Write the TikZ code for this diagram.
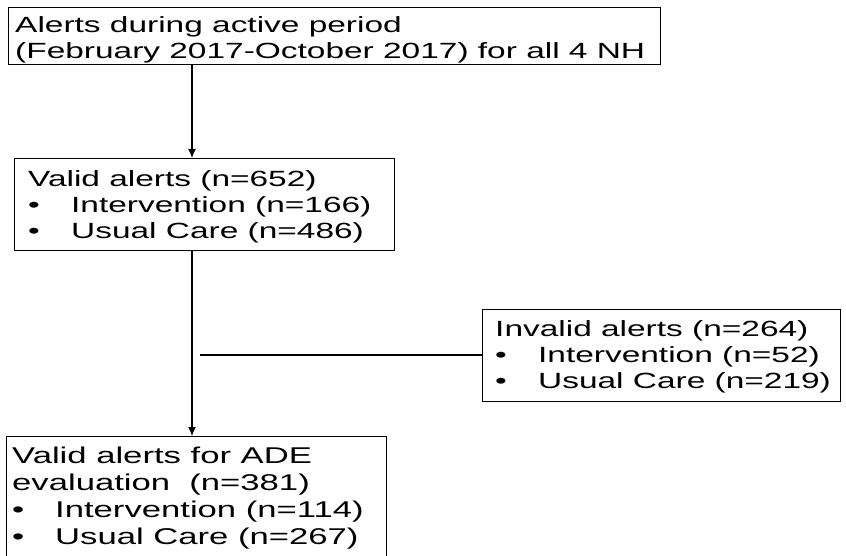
\documentclass[tikz,border=0pt]{standalone}
\usepackage{fontspec}
\setmainfont{Liberation Sans}[FakeStretch=1.52]
\usetikzlibrary{arrows.meta}
\begin{document}
\begin{tikzpicture}[x=1pt,y=-1pt,
  box/.style={draw, line width=1.2pt, anchor=north west, inner sep=0pt},
  txt/.style={anchor=north west, inner sep=0pt, align=left, font=\fontsize{22}{26}\selectfont},
  bigtxt/.style={txt, font=\fontsize{22.8}{27}\selectfont},
  conn/.style={line width=1.2pt},
  arr/.style={conn, -{Latex[length=9pt,width=8pt]}}
]
\newcommand{\itm}[1]{\makebox[43pt][l]{•}#1}
\useasboundingbox (0,0) rectangle (846,556);
\clip (0,0) rectangle (846,556);
% boxes
\node[box, minimum width=652pt, minimum height=57pt] (b1) at (8,7) {};
\node[box, minimum width=380pt, minimum height=92pt] (b2) at (14,158) {};
\node[box, minimum width=358pt, minimum height=92pt] (b3) at (482,309) {};
\node[box, minimum width=380pt, minimum height=140pt] (b4) at (6,436) {};
% texts
\node[txt] (t1) at (15,16) {Alerts during active period\\(February 2017-October 2017) for all 4 NH};
\node[txt] (t2) at (28,170) {Valid alerts (n=652)\\\itm{Intervention (n=166)}\\\itm{Usual Care (n=486)}};
\node[txt] (t3) at (495,320) {Invalid alerts (n=264)\\\itm{Intervention (n=52)}\\\itm{Usual Care (n=219)}};
\node[bigtxt] (t4) at (12,447) {Valid alerts for ADE\\evaluation~ (n=381)\\\itm{Intervention (n=114)}\\\itm{Usual Care (n=267)}};
% connectors
\coordinate (c1) at (192,0);
\coordinate (h) at (200,355);
\draw[arr] (b1.south -| c1) -- (b2.north -| c1);
\draw[arr] (b2.south -| c1) -- (b4.north -| c1);
\draw[conn] (h) -- (h -| b3.west);
\end{tikzpicture}
\end{document}
